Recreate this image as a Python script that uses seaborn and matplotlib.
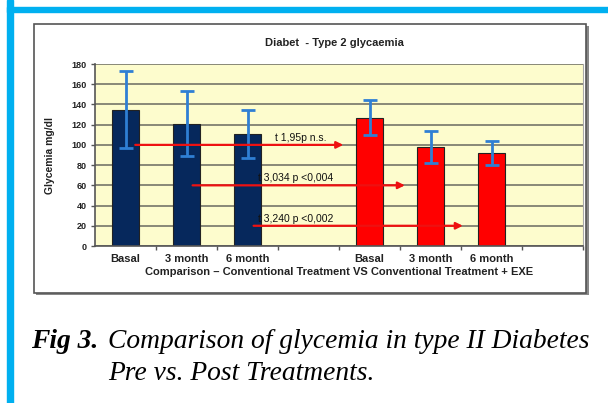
import numpy as np
import pandas as pd
import matplotlib
matplotlib.use("Agg")
import matplotlib.pyplot as plt
from matplotlib.patches import Rectangle
import seaborn as sns

# data
slots = ["ct_basal", "ct_3m", "ct_6m", "gap1", "exe_basal", "exe_3m", "exe_6m", "gap2"]
tick_labels = ["Basal", "3 month", "6 month", "", "Basal", "3 month", "6 month", ""]
bar_slots = ["ct_basal", "ct_3m", "ct_6m", "exe_basal", "exe_3m", "exe_6m"]
groups = ["CT", "CT", "CT", "EXE", "EXE", "EXE"]
glycemia = [135, 121, 111, 127, 98, 92]
sd = [38, 32, 24, 17, 16, 12]

# t-test annotations: text, line level, from slot, to slot
tests = ["t 1,95p n.s.", "t 3,034 p <0,004", "t 3,240 p <0,002"]
test_y = [100, 60, 20]
test_from = [0.16, 1.1, 2.1]
test_to = [3.57, 4.58, 5.53]
test_text_x = [2.45, 2.17, 2.17]

df = pd.DataFrame({"slot": bar_slots, "group": groups, "glycemia": glycemia})

sns.set_style("white")
plt.rcParams["font.family"] = ["Liberation Sans", "DejaVu Sans"]

fig = plt.figure(figsize=(6.08, 4.03), dpi=100)
W, H = 608, 403

# blue frame on the page
fig.patches.append(Rectangle((7 / W, 0), 6 / W, 1, transform=fig.transFigure,
                             color="#00b0f0", zorder=-2))
fig.patches.append(Rectangle((7 / W, 1 - 12 / H), 1, 5 / H, transform=fig.transFigure,
                             color="#00b0f0", zorder=-2))
# chart box with a little shadow
fig.patches.append(Rectangle((36 / W, 1 - 295 / H), 553 / W, 269 / H, transform=fig.transFigure,
                             facecolor="#888888", edgecolor="none", zorder=-2))
fig.patches.append(Rectangle((34 / W, 1 - 293 / H), 552 / W, 269 / H, transform=fig.transFigure,
                             facecolor="white", edgecolor="#555555", lw=1.2, zorder=-1))

ax = fig.add_axes([95 / W, 1 - 246 / H, 488 / W, 182 / H])
ax.set_facecolor("#fdfccd")

sns.barplot(data=df, x="slot", y="glycemia", hue="group", order=slots,
            palette={"CT": "#06285c", "EXE": "#ff0000"}, dodge=False, width=0.43,
            saturation=1, edgecolor="#222222", linewidth=0.8, legend=False, ax=ax, zorder=2)

xpos = [slots.index(s) for s in bar_slots]
ax.errorbar(xpos, glycemia, yerr=sd, fmt="none", ecolor="#2f7fd4",
            elinewidth=2, capsize=5, capthick=2, zorder=3)

for txt, yv, x0, x1, tx in zip(tests, test_y, test_from, test_to, test_text_x):
    ax.annotate("", xy=(x1, yv), xytext=(x0, yv),
                arrowprops=dict(arrowstyle="-|>", color="#ee1111", lw=1.6,
                                mutation_scale=10, shrinkA=0, shrinkB=0), zorder=4)
    ax.text(tx, yv + 2, txt, fontsize=7.5, color="#111111", ha="left", va="bottom", zorder=5)

ax.set_ylim(0, 180)
ax.set_xlim(-0.5, len(slots) - 0.5)
ax.set_yticks(np.arange(0, 181, 20))
ax.yaxis.grid(True, color="#7f7f70", lw=1.3)
ax.set_axisbelow(True)
ax.tick_params(axis="y", labelsize=6.5, length=3, width=1, color="#555555", pad=3, left=True,
               labelcolor="#222222")
for lab in ax.get_yticklabels():
    lab.set_fontweight("bold")
ax.set_xticks(range(len(slots)))
ax.set_xticklabels(tick_labels, fontsize=8, fontweight="bold", color="#222222")
ax.tick_params(axis="x", length=0, pad=6)
ax.set_xticks(np.arange(0.5, len(slots), 1), minor=True)
ax.tick_params(axis="x", which="minor", length=3, width=1, color="#555555", bottom=True)
ax.set_xlabel("Comparison \u2013 Conventional Treatment VS Conventional Treatment + EXE",
              fontsize=8, fontweight="bold", color="#222222", labelpad=2)
ax.set_ylabel("Glycemia mg/dl", fontsize=7.5, fontweight="bold", color="#222222", labelpad=12)
for side in ["left", "bottom"]:
    ax.spines[side].set_color("#555555")
    ax.spines[side].set_linewidth(1.2)
ax.spines["top"].set_visible(False)
ax.spines["right"].set_color("#aaaaaa")

fig.text(334 / W, 1 - 43 / H, "Diabet  - Type 2 glycaemia", fontsize=8, fontweight="bold",
         color="#222222", ha="center", va="center")

fig.text(31 / W, 1 - 342 / H, "Fig 3.", family="Liberation Serif", fontsize=19.8,
         fontweight="bold", style="italic", va="center", ha="left", color="black")
fig.text(108 / W, 1 - 342 / H, "Comparison of glycemia in type II Diabetes",
         family="Liberation Serif", fontsize=19.8, style="italic", va="center", ha="left",
         color="black")
fig.text(108 / W, 1 - 374 / H, "Pre vs. Post Treatments.",
         family="Liberation Serif", fontsize=19.8, style="italic", va="center", ha="left",
         color="black")

fig.savefig("out.png", dpi=100)
